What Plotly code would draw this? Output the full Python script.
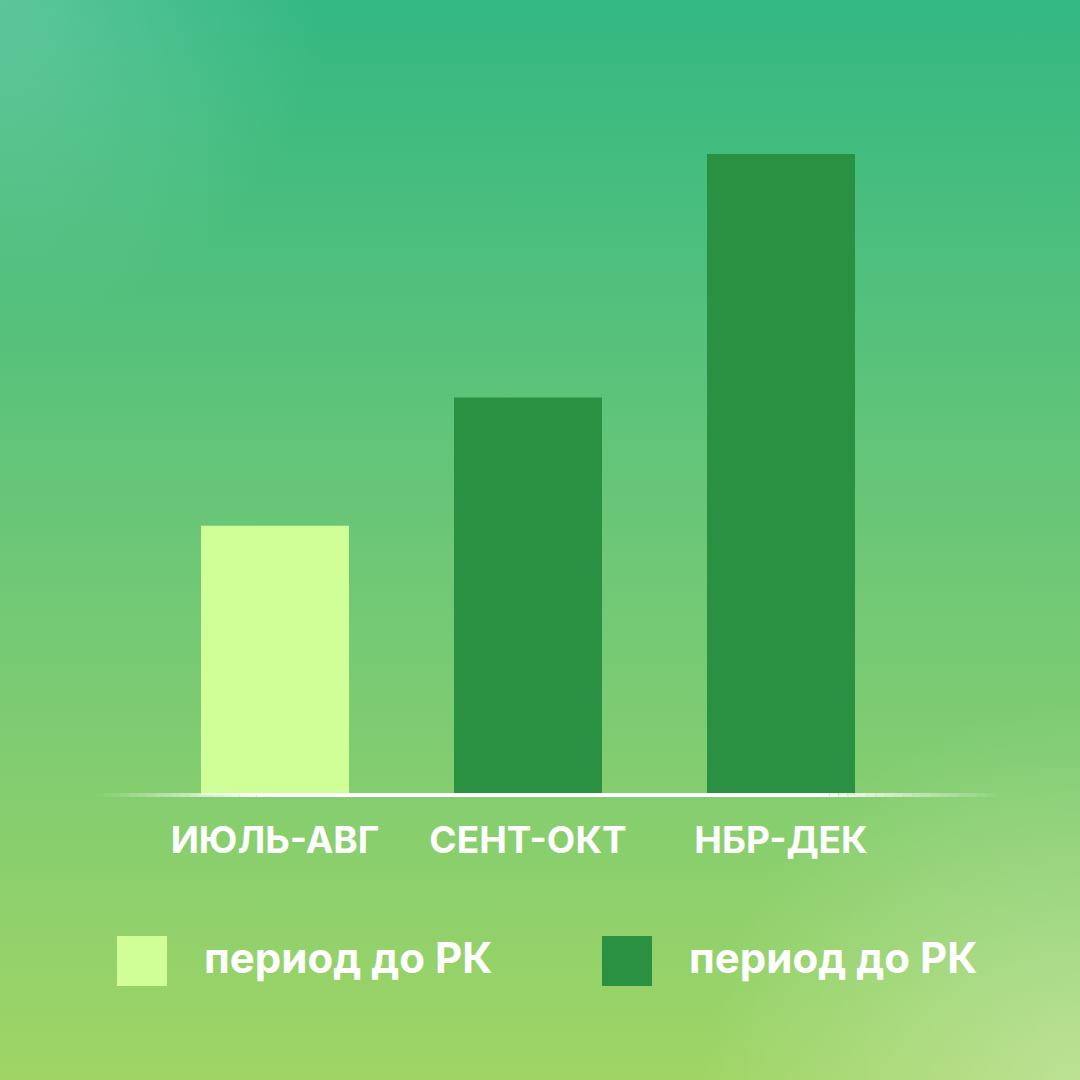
import base64
import plotly.graph_objects as go

# data
periods = ["ИЮЛЬ-АВГ", "СЕНТ-ОКТ", "НБР-ДЕК"]
values = [42, 62, 100]
bar_colors = ["#d0ff97", "#2a9142", "#2a9142"]
legend_names = ["период до РК", "период до РК"]
legend_colors = ["#d0ff97", "#2a9142"]

W, H = 1080, 1080
FONT = "Inter"

# gradient background as an svg image
bg_svg = """<svg xmlns='http://www.w3.org/2000/svg' width='1080' height='1080'>
<defs>
<linearGradient id='g' x1='0' y1='0' x2='0' y2='1'>
<stop offset='0' stop-color='#33b882'/>
<stop offset='0.5' stop-color='#6cc777'/>
<stop offset='1' stop-color='#a0d566'/>
</linearGradient>
<radialGradient id='tl' cx='0' cy='0' r='0.3'>
<stop offset='0' stop-color='#ffffff' stop-opacity='0.2'/>
<stop offset='1' stop-color='#ffffff' stop-opacity='0'/>
</radialGradient>
<radialGradient id='br' cx='1' cy='1' r='0.35'>
<stop offset='0' stop-color='#ffffff' stop-opacity='0.3'/>
<stop offset='1' stop-color='#ffffff' stop-opacity='0'/>
</radialGradient>
</defs>
<rect width='1080' height='1080' fill='url(#g)'/>
<rect width='1080' height='1080' fill='url(#tl)'/>
<rect width='1080' height='1080' fill='url(#br)'/>
</svg>"""
bg_src = "data:image/svg+xml;base64," + base64.b64encode(bg_svg.encode()).decode()

fig = go.Figure()
fig.add_trace(go.Bar(
    x=periods, y=values,
    marker=dict(color=bar_colors, line=dict(width=0)),
    hoverinfo="skip",
))

fig.update_layout(
    width=W, height=H,
    margin=dict(l=0, r=0, t=0, b=0),
    paper_bgcolor="rgba(0,0,0,0)",
    plot_bgcolor="rgba(0,0,0,0)",
    showlegend=False,
    bargap=0.415,
    font=dict(family=FONT, color="white"),
    images=[dict(source=bg_src, xref="paper", yref="paper", x=0, y=1,
                 sizex=1, sizey=1, sizing="stretch", layer="below")],
)
fig.update_xaxes(
    domain=[148.5 / W, 907.5 / W], range=[-0.5, 2.5],
    showgrid=False, zeroline=False, showline=False, ticks="",
    tickfont=dict(family=FONT, size=37, color="white", weight="bold"),
    ticklabelstandoff=20,
)
fig.update_yaxes(
    domain=[285 / H, 926 / H], range=[0, 100],
    showgrid=False, zeroline=False, showline=False, showticklabels=False,
)

# baseline with faded ends
y0 = 285 / H
x_start, x_solid, x_solid_end, x_end = 95 / W, 265 / W, 820 / W, 1005 / W
n = 20
for i in range(n):
    a = (i + 0.5) / n
    xa = x_start + (x_solid - x_start) * i / n
    xb = x_start + (x_solid - x_start) * (i + 1) / n
    fig.add_shape(type="line", xref="paper", yref="paper", x0=xa, x1=xb, y0=y0, y1=y0,
                  line=dict(color="white", width=4), opacity=a)
    xa = x_end - (x_end - x_solid_end) * i / n
    xb = x_end - (x_end - x_solid_end) * (i + 1) / n
    fig.add_shape(type="line", xref="paper", yref="paper", x0=xa, x1=xb, y0=y0, y1=y0,
                  line=dict(color="white", width=4), opacity=a)
fig.add_shape(type="line", xref="paper", yref="paper", x0=x_solid, x1=x_solid_end, y0=y0, y1=y0,
              line=dict(color="white", width=4))

# legend drawn by hand
for name, color, sx in zip(legend_names, legend_colors, [117, 602]):
    fig.add_shape(type="rect", xref="paper", yref="paper",
                  x0=sx / W, x1=(sx + 50) / W, y0=(H - 986) / H, y1=(H - 936) / H,
                  fillcolor=color, line=dict(width=0))
    fig.add_annotation(text=name, xref="paper", yref="paper",
                       x=(sx + 85) / W, y=(H - 957) / H, xanchor="left", yanchor="middle",
                       showarrow=False,
                       font=dict(family=FONT, size=42, color="white", weight="bold"))

fig.write_html("out.html", config={"displayModeBar": False},
               post_script="document.body.style.margin='0';")
